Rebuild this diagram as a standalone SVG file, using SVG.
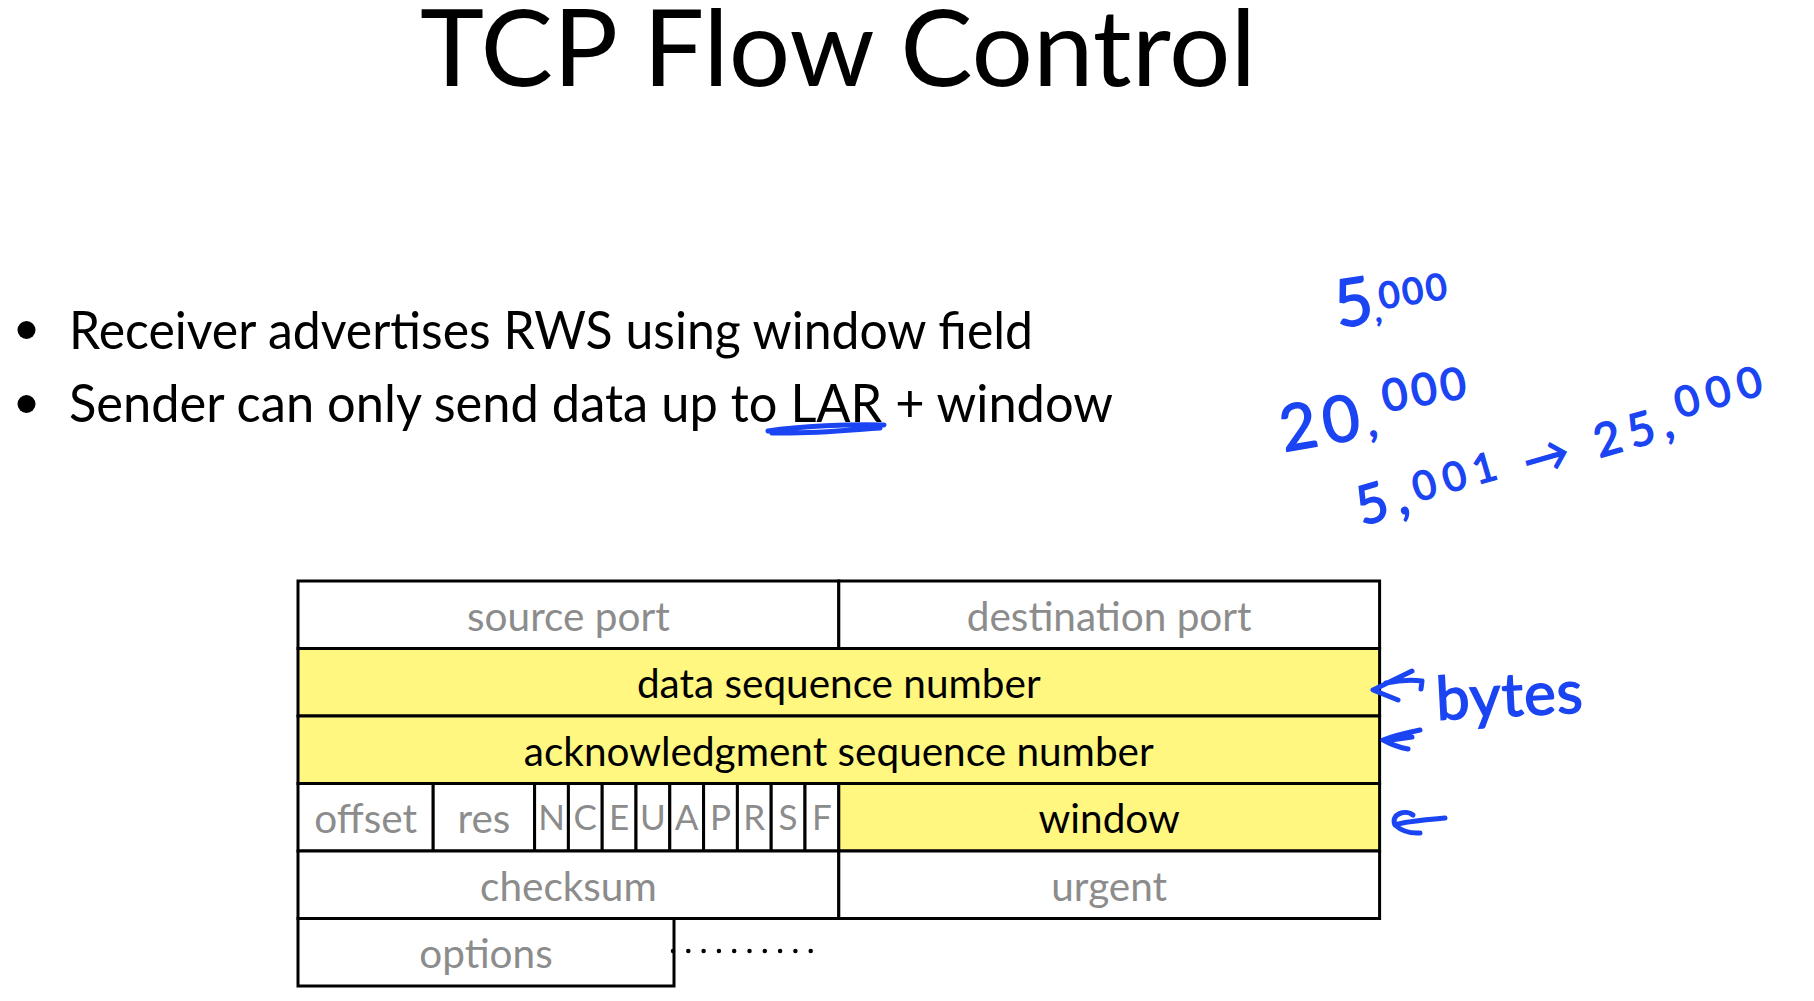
<svg xmlns="http://www.w3.org/2000/svg" width="1814" height="1001" viewBox="0 0 1814 1001">
  <style>
    .title { font-family: Lato, "Liberation Sans", sans-serif; font-size: 106px; fill: #000; }
    .bullet { font-family: Lato, "Liberation Sans", sans-serif; font-size: 52px; fill: #000; }
    .cell { stroke: #000; stroke-width: 3; }
    .plain { fill: #fff; }
    .hl { fill: #fff780; }
    .lbl { font-family: Lato, "Liberation Sans", sans-serif; font-size: 40.5px; text-anchor: middle; }
    .grey { fill: #8c8c8c; }
    .dark { fill: #000; }
    .flag { font-family: Lato, "Liberation Sans", sans-serif; font-size: 35px; text-anchor: middle; fill: #8c8c8c; }
    .ink { fill: none; stroke: #1b44f2; stroke-width: 5; stroke-linecap: round; stroke-linejoin: round; }
    .hand { font-family: Lato, "Liberation Sans", sans-serif; fill: #1b44f2; stroke: #1b44f2; stroke-width: 1.5; }
  </style>

  <rect width="1814" height="1001" fill="#fff"/>

  <!-- heading -->
  <text id="title" class="title" x="420" y="86" textLength="836" lengthAdjust="spacingAndGlyphs">TCP Flow Control</text>

  <!-- bullet list -->
  <g id="bullets">
    <circle cx="26.5" cy="330" r="9" fill="#000"/>
    <text class="bullet" x="69" y="349" textLength="964" lengthAdjust="spacingAndGlyphs">Receiver advertises RWS using window field</text>
    <circle cx="26.5" cy="404" r="9" fill="#000"/>
    <text class="bullet" x="69" y="422" textLength="1044" lengthAdjust="spacingAndGlyphs">Sender can only send data up to LAR + window</text>
  </g>

  <!-- TCP header: 32 bits wide, one bit = 33.8px, rows 67.5px tall -->
  <g id="hdr-source-port">
    <rect class="cell plain" x="298" y="581" width="540.8" height="67.5"/>
    <text class="lbl grey" x="568.4" y="631">source port</text>
  </g>
  <g id="hdr-destination-port">
    <rect class="cell plain" x="838.8" y="581" width="540.8" height="67.5"/>
    <text class="lbl grey" x="1109.2" y="631">destination port</text>
  </g>
  <g id="hdr-seq">
    <rect class="cell hl" x="298" y="648.5" width="1081.6" height="67.5"/>
    <text class="lbl dark" x="838.8" y="698">data sequence number</text>
  </g>
  <g id="hdr-ack">
    <rect class="cell hl" x="298" y="716" width="1081.6" height="67.5"/>
    <text class="lbl dark" x="838.8" y="766">acknowledgment sequence number</text>
  </g>
  <g id="hdr-offset">
    <rect class="cell plain" x="298" y="783.5" width="135.2" height="67.5"/>
    <text class="lbl grey" x="365.6" y="833">offset</text>
  </g>
  <g id="hdr-res">
    <rect class="cell plain" x="433.2" y="783.5" width="101.4" height="67.5"/>
    <text class="lbl grey" x="483.9" y="833">res</text>
  </g>
  <g id="hdr-flags">
    <rect class="cell plain" x="534.6" y="783.5" width="33.8" height="67.5"/>
    <rect class="cell plain" x="568.4" y="783.5" width="33.8" height="67.5"/>
    <rect class="cell plain" x="602.2" y="783.5" width="33.8" height="67.5"/>
    <rect class="cell plain" x="636" y="783.5" width="33.8" height="67.5"/>
    <rect class="cell plain" x="669.8" y="783.5" width="33.8" height="67.5"/>
    <rect class="cell plain" x="703.6" y="783.5" width="33.8" height="67.5"/>
    <rect class="cell plain" x="737.4" y="783.5" width="33.8" height="67.5"/>
    <rect class="cell plain" x="771.2" y="783.5" width="33.8" height="67.5"/>
    <rect class="cell plain" x="805" y="783.5" width="33.8" height="67.5"/>
    <text class="flag" x="551.5" y="830">N</text>
    <text class="flag" x="585.3" y="830">C</text>
    <text class="flag" x="619.1" y="830">E</text>
    <text class="flag" x="652.9" y="830">U</text>
    <text class="flag" x="686.7" y="830">A</text>
    <text class="flag" x="720.5" y="830">P</text>
    <text class="flag" x="754.3" y="830">R</text>
    <text class="flag" x="788.1" y="830">S</text>
    <text class="flag" x="821.9" y="830">F</text>
  </g>
  <g id="hdr-window">
    <rect class="cell hl" x="838.8" y="783.5" width="540.8" height="67.5"/>
    <text class="lbl dark" x="1109.2" y="833">window</text>
  </g>
  <g id="hdr-checksum">
    <rect class="cell plain" x="298" y="851" width="540.8" height="67.5"/>
    <text class="lbl grey" x="568.4" y="901">checksum</text>
  </g>
  <g id="hdr-urgent">
    <rect class="cell plain" x="838.8" y="851" width="540.8" height="67.5"/>
    <text class="lbl grey" x="1109.2" y="901">urgent</text>
  </g>
  <g id="hdr-options">
    <rect class="cell plain" x="298" y="918.5" width="376" height="67.5"/>
    <text class="lbl grey" x="486" y="968">options</text>
    <line x1="673" y1="951" x2="812" y2="951" stroke="#000" stroke-width="4.5" stroke-linecap="round" stroke-dasharray="0 15.3"/>
  </g>

  <!-- pen annotations -->
  <g id="ink-notes">
    <path class="ink" stroke-width="6" d="M768,431 C800,426 850,424 884,425 M772,433 C815,434 850,430 880,428"/>
    <text class="hand" font-size="60" letter-spacing="1" transform="translate(1437,720) rotate(-3)">bytes</text>
    <text class="hand" transform="translate(1338,328) rotate(-9)"><tspan font-size="66">5</tspan><tspan font-size="30">,</tspan><tspan font-size="36" dy="-12" letter-spacing="3">000</tspan></text>
    <text class="hand" transform="translate(1284,452) rotate(-10)"><tspan font-size="64" letter-spacing="6">20</tspan><tspan font-size="44" letter-spacing="10">,</tspan><tspan font-size="44" dy="-22" letter-spacing="4">000</tspan></text>
    <text class="hand" transform="translate(1362,526) rotate(-16)" letter-spacing="8"><tspan font-size="54">5,</tspan><tspan font-size="40" dy="-8">001</tspan><tspan font-size="46" dy="8"> → 25,</tspan><tspan font-size="42" dy="-16">000</tspan></text>
  </g>

  <!-- arrows pointing at header fields -->
  <g id="connectors">
    <path class="ink" d="M1412,671 L1373,690 L1398,700 M1386,683 Q1405,679 1422,681 L1421,689"/>
    <path class="ink" d="M1420,730 Q1396,735 1383,740 Q1396,747 1408,749 M1391,740 L1412,737"/>
    <path class="ink" d="M1445,818 C1422,820 1402,822 1395,825 C1390,814 1406,809 1413,815 M1395,825 Q1405,834 1420,833"/>
  </g>
</svg>
